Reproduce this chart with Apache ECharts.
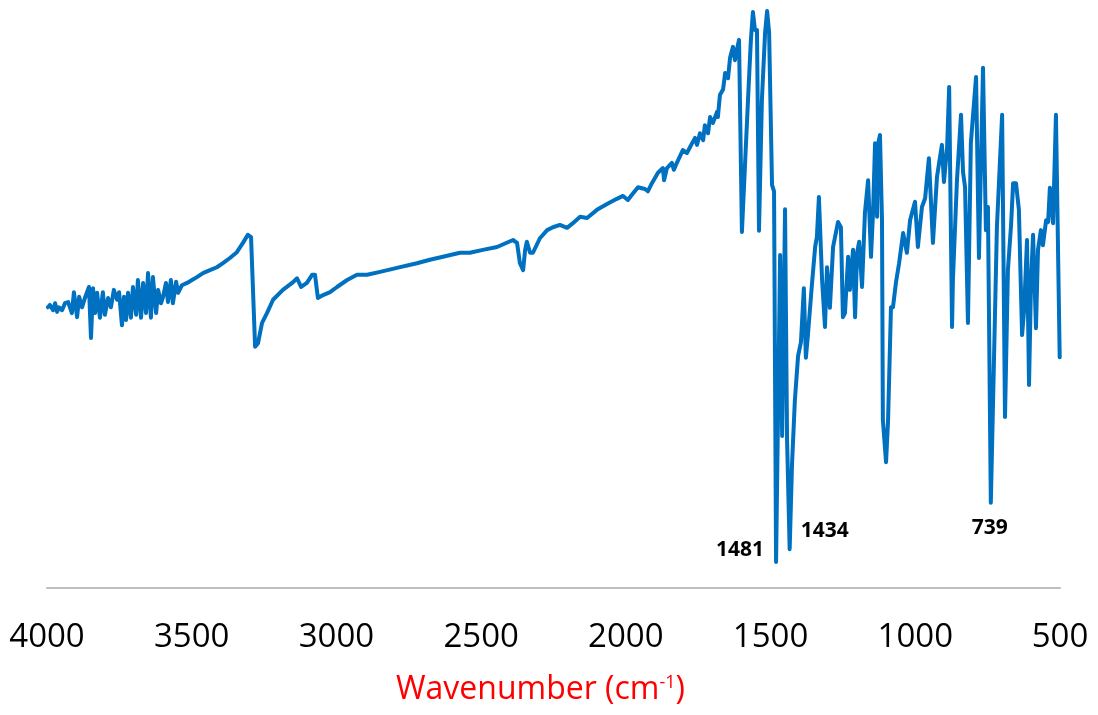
<!DOCTYPE html>
<html>
<head>
<meta charset="utf-8">
<title>IR spectrum</title>
<script src="https://cdn.jsdelivr.net/npm/echarts@6/dist/echarts.min.js"></script>
<style>
  html, body { margin: 0; padding: 0; background: #fff; }
  #chart { width: 1098px; height: 715px; }
</style>
</head>
<body>
<div id="chart"></div>
<script>
// wavenumber (cm-1) from left to right
var wavenumbers = [
  3997, 3990, 3979, 3972, 3965, 3959, 3948, 3938, 3927, 3914, 3907, 3896, 3889, 3879, 3869, 3855,
  3848, 3841, 3834, 3827, 3817, 3807, 3800, 3789, 3779, 3769, 3758, 3751, 3741, 3734, 3727, 3720,
  3710, 3703, 3692, 3686, 3675, 3668, 3658, 3651, 3641, 3634, 3623, 3616, 3606, 3599, 3589, 3582,
  3572, 3565, 3554, 3547, 3534, 3516, 3499, 3482, 3461, 3437, 3413, 3392, 3368, 3344, 3323, 3306,
  3295, 3281, 3271, 3257, 3240, 3219, 3185, 3153, 3136, 3122, 3102, 3084, 3074, 3064, 3046, 3022,
  2998, 2963, 2929, 2894, 2849, 2791, 2722, 2677, 2632, 2573, 2539, 2494, 2445, 2390, 2376, 2366,
  2355, 2348, 2342, 2331, 2321, 2297, 2272, 2252, 2228, 2203, 2183, 2158, 2134, 2100, 2065, 2031,
  2010, 1993, 1979, 1958, 1934, 1924, 1910, 1889, 1872, 1868, 1858, 1841, 1834, 1823, 1803, 1789,
  1771, 1761, 1754, 1744, 1733, 1727, 1716, 1709, 1699, 1685, 1682, 1675, 1664, 1657, 1647, 1640,
  1630, 1623, 1616, 1609, 1599, 1588, 1578, 1568, 1561, 1554, 1547, 1540, 1530, 1519, 1512, 1505,
  1495, 1488, 1481, 1467, 1460, 1450, 1443, 1434, 1426, 1416, 1405, 1395, 1385, 1378, 1371, 1357,
  1346, 1340, 1333, 1322, 1312, 1305, 1295, 1284, 1267, 1257, 1250, 1243, 1232, 1226, 1215, 1208,
  1201, 1194, 1184, 1174, 1163, 1153, 1146, 1139, 1132, 1129, 1122, 1115, 1112, 1101, 1094, 1084,
  1077, 1067, 1056, 1042, 1029, 1018, 1001, 991, 977, 966, 953, 939, 925, 908, 901, 890,
  883, 873, 870, 856, 842, 835, 828, 818, 808, 790, 780, 766, 756, 749, 739, 718,
  700, 690, 680, 669, 662, 652, 642, 631, 624, 614, 607, 600, 593, 583, 576, 566,
  559, 548, 541, 535, 524, 514, 501
];

// transmittance (%), same order
var transmittance = [
  48.4, 48.8, 47.9, 49.1, 47.6, 48.4, 47.9, 49.1, 49.3, 47.4, 51.0, 46.7, 50.2, 48.4, 50.0, 51.9,
  43.1, 51.7, 47.4, 50.9, 46.6, 51.0, 47.1, 50.0, 48.4, 51.4, 49.7, 51.0, 45.3, 50.2, 46.2, 50.9,
  46.6, 51.9, 47.1, 53.1, 46.6, 52.6, 47.4, 54.3, 46.6, 53.6, 47.4, 51.4, 49.1, 50.2, 52.6, 49.3,
  53.1, 49.1, 52.8, 50.9, 52.2, 52.6, 53.1, 53.6, 54.3, 54.8, 55.3, 56.0, 56.9, 57.9, 59.5, 60.9,
  60.5, 41.6, 42.2, 45.7, 47.4, 49.7, 51.4, 52.6, 53.4, 51.9, 52.6, 54.0, 54.0, 50.0, 50.5, 51.0,
  51.9, 53.1, 54.0, 54.0, 54.5, 55.2, 56.0, 56.6, 57.1, 57.8, 57.8, 58.3, 58.8, 60.0, 59.5, 56.0,
  54.8, 58.3, 59.7, 57.8, 57.8, 60.3, 61.7, 62.2, 62.6, 62.1, 62.9, 64.0, 63.8, 65.2, 66.2, 67.1,
  67.6, 66.9, 67.8, 69.1, 68.8, 68.4, 69.8, 71.6, 72.4, 70.3, 72.4, 73.3, 72.1, 73.4, 75.5, 75.0,
  76.7, 77.6, 76.4, 78.4, 77.2, 79.8, 78.4, 81.2, 80.2, 82.1, 81.2, 85.0, 86.0, 88.8, 87.9, 91.4,
  93.3, 91.0, 92.9, 94.5, 61.4, 73.3, 84.1, 94.5, 99.3, 96.2, 96.2, 61.6, 84.1, 95.7, 99.5, 95.7,
  69.5, 68.4, 4.5, 57.4, 26.2, 65.3, 25.5, 6.7, 21.2, 32.4, 40.0, 42.4, 51.7, 39.7, 43.6, 52.4,
  58.8, 60.5, 67.4, 53.1, 45.0, 55.3, 48.3, 58.8, 63.1, 62.2, 46.7, 47.4, 57.1, 51.4, 58.3, 46.7,
  57.8, 59.7, 51.9, 64.7, 70.3, 57.1, 64.7, 76.7, 64.0, 76.4, 78.1, 63.4, 29.0, 21.7, 29.0, 48.4,
  48.4, 52.6, 56.0, 61.2, 57.8, 63.4, 66.6, 58.8, 65.7, 67.2, 74.1, 59.5, 70.9, 76.4, 70.0, 76.0,
  86.4, 45.0, 53.1, 70.3, 81.6, 71.7, 69.1, 45.7, 76.7, 88.1, 56.9, 89.7, 61.7, 65.7, 14.7, 62.2,
  81.6, 29.5, 54.8, 62.6, 69.8, 69.8, 65.2, 43.6, 47.9, 60.0, 35.0, 53.1, 60.9, 44.8, 58.3, 61.7,
  59.1, 63.4, 63.1, 69.0, 62.9, 81.6, 39.8
];

// annotated bands
var peakWavenumbers = [1481, 1434, 739];
var peakValues = [4.5, 6.7, 14.7];
var peakOffsets = [[-36, -12], [35, -18], [-1, 25]];

var seriesData = wavenumbers.map(function (w, i) { return [w, transmittance[i]]; });

var markData = peakWavenumbers.map(function (w, i) {
  return {
    coord: [w, peakValues[i]],
    label: { formatter: String(w), offset: peakOffsets[i] }
  };
});

var chart = echarts.init(document.getElementById('chart'));
var option = {
  animation: false,
  grid: { left: 47, right: 38, top: 8, bottom: 127 },
  xAxis: {
    type: 'value',
    inverse: true,
    min: 500,
    max: 4000,
    interval: 500,
    name: 'Wavenumber (cm{sup|-1})',
    nameLocation: 'middle',
    nameGap: 86,
    nameTextStyle: {
      color: '#FF0000',
      fontFamily: 'Open Sans',
      fontSize: 32,
      padding: [0, 26, 0, 0],
      rich: {
        sup: { color: '#FF0000', fontFamily: 'Open Sans', fontSize: 18, verticalAlign: 'top', padding: [0, 0, 14, 0] }
      }
    },
    axisLine: { lineStyle: { color: '#BFBFBF', width: 2 } },
    axisTick: { show: false },
    splitLine: { show: false },
    axisLabel: {
      color: '#000',
      fontFamily: 'Open Sans',
      fontSize: 33,
      margin: 33,
      showMinLabel: true,
      showMaxLabel: true,
      formatter: function (v) { return String(v); }
    }
  },
  yAxis: {
    type: 'value',
    min: 0,
    max: 100,
    show: false
  },
  series: [{
    type: 'line',
    data: seriesData,
    showSymbol: false,
    lineStyle: { color: '#0070C0', width: 4, join: 'round', cap: 'round' },
    markPoint: {
      symbol: 'circle',
      symbolSize: 0,
      label: {
        show: true,
        position: 'inside',
        color: '#000',
        fontFamily: 'Open Sans',
        fontWeight: 'bold',
        fontSize: 21
      },
      data: markData
    }
  }]
};
chart.setOption(option);
</script>
</body>
</html>
